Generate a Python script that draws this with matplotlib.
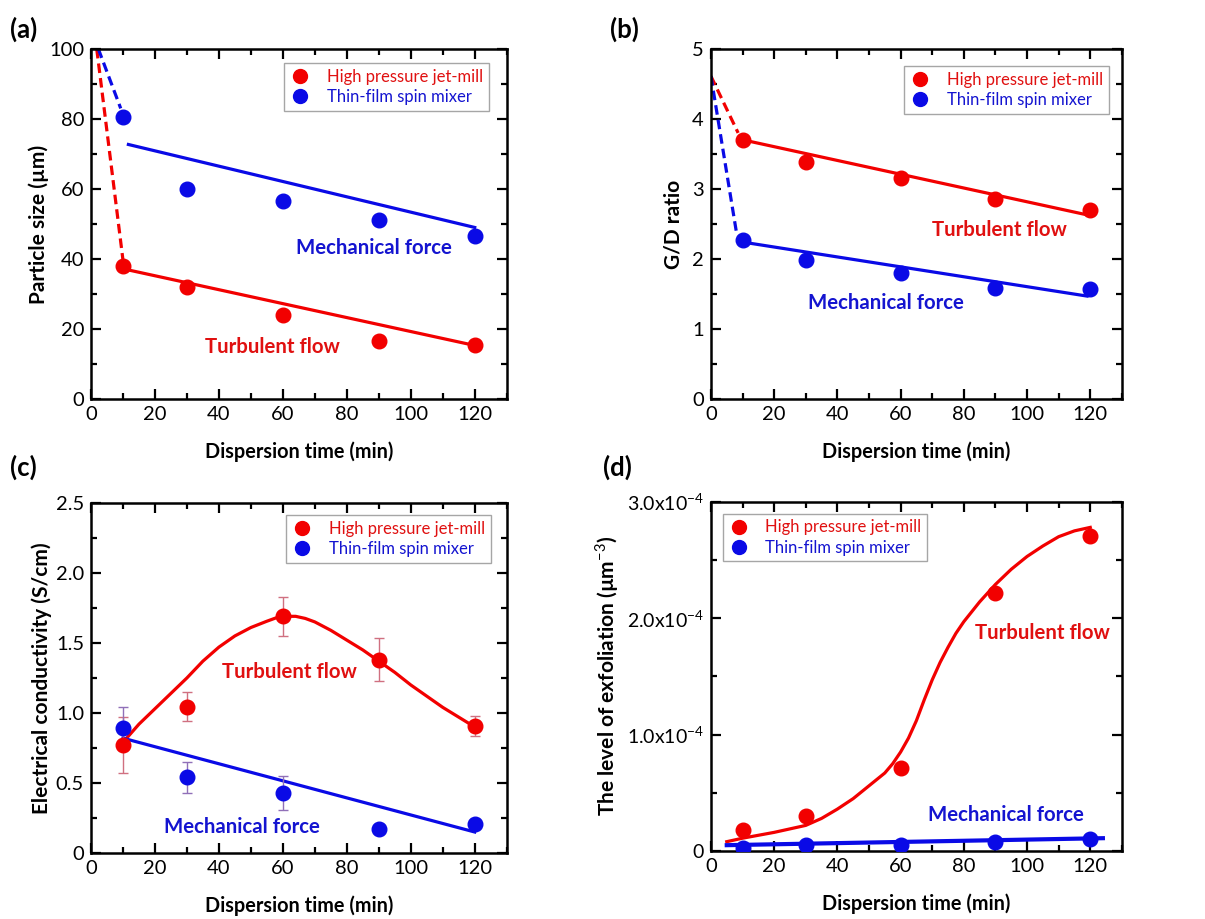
import numpy as np
import matplotlib
matplotlib.use("Agg")
import matplotlib.pyplot as plt
from matplotlib.ticker import MultipleLocator

plt.rcParams['font.family'] = ['Lato', 'DejaVu Sans']
plt.rcParams['mathtext.fontset'] = 'custom'
plt.rcParams['mathtext.rm'] = 'Lato'
plt.rcParams['mathtext.bf'] = 'Lato:bold'

RED = '#f20000'
BLUE = '#0a0ae6'
RED_TXT = '#e01010'
BLUE_TXT = '#1414d0'

# dispersion time (min)
t = [10, 30, 60, 90, 120]

# (a) particle size (um)
a_jet = [38, 32, 24, 16.5, 15.5]
a_spin = [80.5, 60, 56.5, 51, 46.5]
a_jet_fit_x, a_jet_fit_y = [11, 120], [37, 15.3]
a_spin_fit_x, a_spin_fit_y = [11.7, 120], [72.7, 49]
a_jet_dash_x, a_jet_dash_y = [1.8, 10.1], [100, 39]
a_spin_dash_x, a_spin_dash_y = [2.3, 9.3], [100, 83]

# (b) G/D ratio
b_jet = [3.70, 3.38, 3.16, 2.85, 2.70]
b_spin = [2.27, 1.98, 1.80, 1.59, 1.57]
b_jet_fit_x, b_jet_fit_y = [10.2, 120], [3.70, 2.62]
b_spin_fit_x, b_spin_fit_y = [10.2, 119], [2.24, 1.47]
b_jet_dash_x, b_jet_dash_y = [0, 8.6], [4.61, 3.80]
b_spin_dash_x, b_spin_dash_y = [0, 8.1], [4.61, 2.37]

# (c) electrical conductivity (S/cm)
c_jet = [0.77, 1.045, 1.69, 1.38, 0.905]
c_jet_err = [0.20, 0.105, 0.14, 0.155, 0.07]
c_spin = [0.89, 0.54, 0.43, 0.17, 0.21]
c_spin_err = [0.15, 0.11, 0.12, 0.0, 0.03]
c_jet_curve_x = [10, 15, 20, 25, 30, 35, 40, 45, 50, 55, 58, 61, 64, 67, 70,
                 75, 80, 85, 90, 95, 100, 105, 110, 115, 120]
c_jet_curve_y = [0.79, 0.92, 1.03, 1.14, 1.25, 1.37, 1.47, 1.55, 1.61, 1.655,
                 1.68, 1.69, 1.69, 1.675, 1.65, 1.59, 1.52, 1.45, 1.37, 1.29,
                 1.20, 1.12, 1.04, 0.97, 0.90]
c_spin_fit_x, c_spin_fit_y = [10, 120], [0.82, 0.15]

# (d) level of exfoliation (um^-3)
d_jet = [1.8e-5, 3.0e-5, 7.1e-5, 2.22e-4, 2.71e-4]
d_spin = [0.3e-5, 0.5e-5, 0.55e-5, 0.75e-5, 1.0e-5]
d_jet_curve_x = [5, 10, 20, 30, 35, 40, 45, 50, 55, 57.5, 60, 62.5, 65, 67.5,
                 70, 72.5, 75, 77.5, 80, 85, 90, 95, 100, 105, 110, 115, 120]
d_jet_curve_y = [0.08e-4, 0.11e-4, 0.16e-4, 0.22e-4, 0.28e-4, 0.36e-4,
                 0.45e-4, 0.56e-4, 0.67e-4, 0.75e-4, 0.85e-4, 0.97e-4,
                 1.12e-4, 1.30e-4, 1.47e-4, 1.62e-4, 1.75e-4, 1.87e-4,
                 1.97e-4, 2.14e-4, 2.29e-4, 2.42e-4, 2.53e-4, 2.62e-4,
                 2.70e-4, 2.75e-4, 2.78e-4]
d_spin_fit_x, d_spin_fit_y = [5, 124], [0.05e-4, 0.11e-4]
d_yticks = [0, 1e-4, 2e-4, 3e-4]
d_yticklabels = ['0', '1.0x10$^{-4}$', '2.0x10$^{-4}$', '3.0x10$^{-4}$']

fig = plt.figure(figsize=(12.05, 9.19), dpi=100)
ax_a = fig.add_axes([0.0755, 0.5658, 0.345, 0.381])
ax_b = fig.add_axes([0.590, 0.5658, 0.341, 0.381])
ax_c = fig.add_axes([0.0755, 0.0718, 0.345, 0.381])
ax_d = fig.add_axes([0.590, 0.074, 0.341, 0.380])

TICK_FS = 14.5
XLABEL_FS = 14.3
YLABEL_FS = 15
NOTE_FS = 14.7


def style(ax, ymax, ymaj, ymin_):
    ax.set_xlim(0, 130)
    ax.set_ylim(0, ymax)
    ax.xaxis.set_major_locator(MultipleLocator(20))
    ax.xaxis.set_minor_locator(MultipleLocator(10))
    ax.yaxis.set_major_locator(MultipleLocator(ymaj))
    ax.yaxis.set_minor_locator(MultipleLocator(ymin_))
    ax.tick_params(which='both', direction='in', top=True, right=True,
                   width=1.6, labelsize=TICK_FS, colors='black')
    ax.tick_params(which='major', length=7, pad=5)
    ax.tick_params(which='minor', length=4)
    for s in ax.spines.values():
        s.set_linewidth(1.8)
    ax.set_xlabel('Dispersion time (min)', fontsize=XLABEL_FS, fontweight='bold',
                  labelpad=13)


def legend(ax, loc, anchor):
    h1, = ax.plot([], [], 'o', color=RED, ms=10)
    h2, = ax.plot([], [], 'o', color=BLUE, ms=10)
    lg = ax.legend([h1, h2], ['High pressure jet-mill', 'Thin-film spin mixer'],
                   loc=loc, bbox_to_anchor=anchor, borderaxespad=0,
                   fontsize=12, fancybox=False, edgecolor='#909090',
                   handlelength=1.2, handletextpad=1.0, borderpad=0.35,
                   labelspacing=0.25)
    lg.get_frame().set_linewidth(1.0)
    lg.get_texts()[0].set_color(RED_TXT)
    lg.get_texts()[1].set_color(BLUE_TXT)


def note(ax, x, y, s, c):
    ax.text(x, y, s, color=c, fontsize=NOTE_FS, fontweight='bold',
            ha='center', va='center')


# (a)
ax_a.plot(a_jet_dash_x, a_jet_dash_y, '--', color=RED, lw=2.3, dashes=(3, 1.6))
ax_a.plot(a_spin_dash_x, a_spin_dash_y, '--', color=BLUE, lw=2.3, dashes=(3, 1.6))
ax_a.plot(a_jet_fit_x, a_jet_fit_y, '-', color=RED, lw=2.3)
ax_a.plot(a_spin_fit_x, a_spin_fit_y, '-', color=BLUE, lw=2.3)
ax_a.plot(t, a_jet, 'o', color=RED, ms=10.5, zorder=3)
ax_a.plot(t, a_spin, 'o', color=BLUE, ms=10.5, zorder=3)
style(ax_a, 100, 20, 10)
ax_a.set_ylabel('Particle size (µm)', fontsize=YLABEL_FS, fontweight='bold',
                labelpad=0)
note(ax_a, 88.5, 43, 'Mechanical force', BLUE_TXT)
note(ax_a, 56.7, 15, 'Turbulent flow', RED_TXT)
legend(ax_a, 'upper right', (0.957, 0.96))

# (b)
ax_b.plot(b_jet_dash_x, b_jet_dash_y, '--', color=RED, lw=2.3, dashes=(3, 1.6))
ax_b.plot(b_spin_dash_x, b_spin_dash_y, '--', color=BLUE, lw=2.3, dashes=(3, 1.6))
ax_b.plot(b_jet_fit_x, b_jet_fit_y, '-', color=RED, lw=2.3)
ax_b.plot(b_spin_fit_x, b_spin_fit_y, '-', color=BLUE, lw=2.3)
ax_b.plot(t, b_jet, 'o', color=RED, ms=10.5, zorder=3)
ax_b.plot(t, b_spin, 'o', color=BLUE, ms=10.5, zorder=3)
style(ax_b, 5, 1, 0.5)
ax_b.set_ylabel('G/D ratio', fontsize=YLABEL_FS, fontweight='bold', labelpad=6)
note(ax_b, 91.3, 2.42, 'Turbulent flow', RED_TXT)
note(ax_b, 55.5, 1.37, 'Mechanical force', BLUE_TXT)
legend(ax_b, 'upper right', (0.968, 0.951))

# (c)
ax_c.plot(c_jet_curve_x, c_jet_curve_y, '-', color=RED, lw=2.3)
ax_c.plot(c_spin_fit_x, c_spin_fit_y, '-', color=BLUE, lw=2.3)
ax_c.errorbar(t, c_jet, yerr=c_jet_err, fmt='none', ecolor='#d07080',
              elinewidth=1, capsize=3.5, capthick=1, zorder=2)
ax_c.errorbar(t, c_spin, yerr=c_spin_err, fmt='none', ecolor='#9070b8',
              elinewidth=1, capsize=3.5, capthick=1, zorder=2)
ax_c.plot(t, c_jet, 'o', color=RED, ms=10.5, zorder=3)
ax_c.plot(t, c_spin, 'o', color=BLUE, ms=10.5, zorder=3)
style(ax_c, 2.5, 0.5, 0.25)
ax_c.set_yticks([0, 0.5, 1.0, 1.5, 2.0, 2.5])
ax_c.set_yticklabels(['0', '0.5', '1.0', '1.5', '2.0', '2.5'])
ax_c.set_ylabel('Electrical conductivity (S/cm)', fontsize=YLABEL_FS,
                fontweight='bold', labelpad=3)
note(ax_c, 62, 1.295, 'Turbulent flow', RED_TXT)
note(ax_c, 47.2, 0.185, 'Mechanical force', BLUE_TXT)
legend(ax_c, 'upper right', (0.962, 0.966))

# (d)
ax_d.plot(d_jet_curve_x, d_jet_curve_y, '-', color=RED, lw=2.3)
ax_d.plot(d_spin_fit_x, d_spin_fit_y, '-', color=BLUE, lw=3)
ax_d.plot(t, d_jet, 'o', color=RED, ms=10.5, zorder=3)
ax_d.plot(t, d_spin, 'o', color=BLUE, ms=10.5, zorder=3)
style(ax_d, 3e-4, 1e-4, 0.5e-4)
ax_d.set_yticks(d_yticks)
ax_d.set_yticklabels(d_yticklabels)
ax_d.tick_params(axis='y', labelsize=14)
ax_d.set_ylabel('The level of exfoliation (µm$^{-3}$)', fontsize=YLABEL_FS,
                fontweight='bold', labelpad=4)
note(ax_d, 105, 1.87e-4, 'Turbulent flow', RED_TXT)
note(ax_d, 93.4, 0.31e-4, 'Mechanical force', BLUE_TXT)
legend(ax_d, 'upper left', (0.029, 0.966))

# panel letters
for lab, x, y in [('(a)', 0.008, 0.982), ('(b)', 0.506, 0.982),
                  ('(c)', 0.008, 0.505), ('(d)', 0.500, 0.505)]:
    fig.text(x, y, lab, fontsize=18.5, fontweight='bold', va='top')

fig.savefig('out.png', dpi=100)
